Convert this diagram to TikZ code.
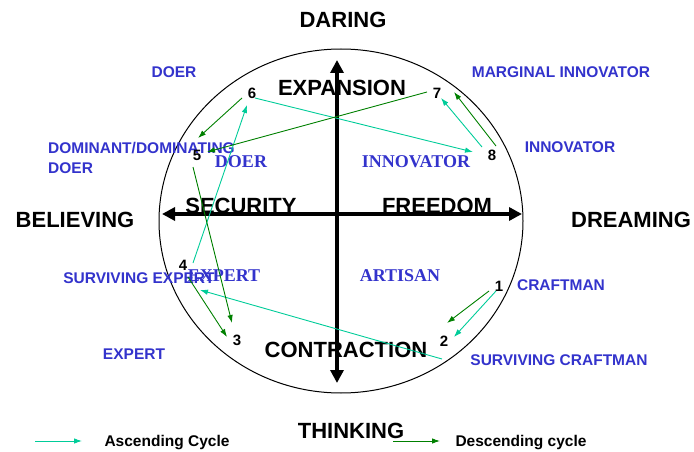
\documentclass[tikz,border=0pt]{standalone}
\usepackage{fontspec}
\setmainfont{Liberation Sans}
\newfontfamily\quadfont{Liberation Serif}
\usepackage{tikz}
\usetikzlibrary{arrows.meta}

\definecolor{roleblue}{RGB}{51,51,204}
\definecolor{upteal}{RGB}{0,204,153}
\definecolor{downgreen}{RGB}{0,128,0}

\begin{document}
\begin{tikzpicture}[x=1pt, y=-1pt, inner sep=0pt,
                    axis/.style={line width=4pt,-{Triangle[length=13pt,width=13pt]}},
                    pole/.style={font=\bfseries\fontsize{22}{26}\selectfont},
                    quad/.style={text=roleblue,font=\quadfont\bfseries\fontsize{18}{22}\selectfont},
                    role/.style={text=roleblue,font=\bfseries\fontsize{15.5}{18}\selectfont},
                    num/.style={font=\bfseries\fontsize{15}{17}\selectfont},
                    legend/.style={font=\bfseries\fontsize{15.5}{18}\selectfont},
                    ascend/.style={upteal,line width=0.9pt,-{Latex[length=8pt,width=5.5pt]}},
                    descend/.style={downgreen,line width=0.9pt,-{Latex[length=8pt,width=5.5pt]}}]

  \useasboundingbox (0,0) rectangle (694,452);

  % circle and axes
  \draw[line width=1pt] (341,221) ellipse [x radius=182pt, y radius=172pt];
  \coordinate (top) at (337,60);
  \coordinate (bottom) at (337,383);
  \coordinate (left) at (162,214);
  \coordinate (right) at (522,214);
  \coordinate (centre) at (337,214);
  \draw[axis] (centre) -- (top);
  \draw[axis] (centre) -- (bottom);
  \draw[axis] (centre) -- (left);
  \draw[axis] (centre) -- (right);

  % outer words
  \node[pole] (daring) at (343,20) {DARING};
  \node[pole] (thinking) at (351,431) {THINKING};
  \node[pole] (believing) at (75,220) {BELIEVING};
  \node[pole] (dreaming) at (631,220) {DREAMING};
  \node[pole] (expansion) at (342,88) {EXPANSION};
  \node[pole] (contraction) at (346,350) {CONTRACTION};
  \node[pole] (security) at (241,206) {SECURITY};
  \node[pole] (freedom) at (437,206) {FREEDOM};

  % quadrants
  \node[quad] (qdoer) at (241,162) {DOER};
  \node[quad] (qinnovator) at (416,162) {INNOVATOR};
  \node[quad] (qexpert) at (224,276) {EXPERT};
  \node[quad] (qartisan) at (400,276) {ARTISAN};

  % roles
  \node[role] (doer) at (174,72) {DOER};
  \node[role] (marginal) at (561,72) {MARGINAL INNOVATOR};
  \node[role,anchor=west] (dominant) at (48,148) {DOMINANT/DOMINATING};
  \node[role,anchor=west] (domdoer) at (48,168) {DOER};
  \node[role] (innovator) at (570,147) {INNOVATOR};
  \node[role] (survexpert) at (139,278) {SURVIVING EXPERT};
  \node[role] (craftman) at (561,285) {CRAFTMAN};
  \node[role] (expert) at (134,354) {EXPERT};
  \node[role] (survcraftman) at (559,360) {SURVIVING CRAFTMAN};

  % stages
  \node[num] (1) at (499,286) {1};
  \node[num] (2) at (444,341) {2};
  \node[num] (3) at (237,340) {3};
  \node[num] (4) at (183,265) {4};
  \node[num] (5) at (197,155) {5};
  \node[num] (6) at (252,93) {6};
  \node[num] (7) at (437,93) {7};
  \node[num] (8) at (492,155) {8};

  % arrow ends
  \coordinate (a1) at (496,291);
  \coordinate (a2) at (454,337);
  \coordinate (a2b) at (442,359);
  \coordinate (a4) at (200,290);
  \coordinate (a4b) at (193,263);
  \coordinate (a6) at (247,105);
  \coordinate (a6b) at (255,98);
  \coordinate (a8) at (473,152);
  \coordinate (a8b) at (482,147);
  \coordinate (a7) at (441,98);
  \coordinate (d1) at (489,291);
  \coordinate (d2) at (447,323);
  \coordinate (d8) at (496,146);
  \coordinate (d7) at (454,92);
  \coordinate (d7b) at (427,92);
  \coordinate (d5) at (207,152);
  \coordinate (d6) at (242,98);
  \coordinate (d5b) at (198,138);
  \coordinate (d5c) at (193,167);
  \coordinate (d3) at (232,323);
  \coordinate (d4) at (188,277);
  \coordinate (d3b) at (227,337);

  \path[ascend]
    (a1) edge (a2)
    (a2b) edge (a4)
    (a4b) edge (a6)
    (a6b) edge (a8)
    (a8b) edge (a7);
  \path[descend]
    (d1) edge (d2)
    (d8) edge (d7)
    (d7b) edge (d5)
    (d6) edge (d5b)
    (d5c) edge (d3)
    (d4) edge (d3b);

  % legend
  \coordinate (la) at (35,441);
  \coordinate (lb) at (82,441);
  \coordinate (lc) at (393,441);
  \coordinate (ld) at (440,441);
  \draw[ascend] (la) -- (lb);
  \draw[descend] (lc) -- (ld);
  \node[legend] (ascending) at (167,443) {Ascending Cycle};
  \node[legend] (descending) at (521,443) {Descending cycle};
\end{tikzpicture}
\end{document}
